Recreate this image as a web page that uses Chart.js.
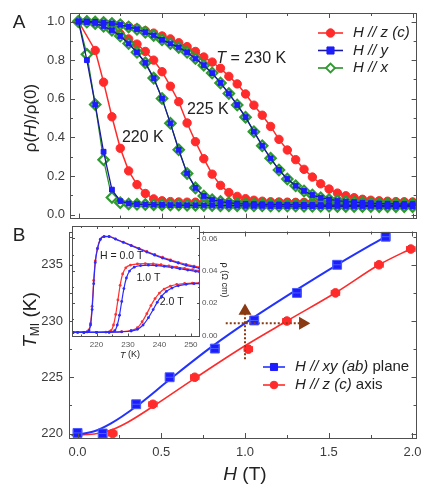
<!DOCTYPE html>
<html>
<head>
<meta charset="utf-8">
<title>rho(H)/rho(0) and T_MI vs H</title>
<script src="https://cdn.jsdelivr.net/npm/chart.js@4.4.1/dist/chart.umd.min.js"></script>
<style>
  html, body { margin: 0; padding: 0; background: #fff; }
  #fig { position: relative; width: 424px; height: 489px; overflow: hidden; background: #fff; }
  #fig canvas { position: absolute; }
</style>
</head>
<body>
<div id="fig">
  <canvas id="panelA" width="424" height="226" style="left:0;top:0"></canvas>
  <canvas id="panelB" width="424" height="265" style="left:0;top:224px"></canvas>
  <canvas id="inset" width="180" height="140" style="left:60px;top:222px"></canvas>
</div>
<script>
// ---- panel A : rho(H)/rho(0) against H ----
const fieldH = [0, 0.05, 0.1, 0.15, 0.2, 0.25, 0.3, 0.35, 0.4, 0.45, 0.5, 0.55, 0.6, 0.65, 0.7, 0.75, 0.8, 0.85, 0.9, 0.95,
                1.0, 1.05, 1.1, 1.15, 1.2, 1.25, 1.3, 1.35, 1.4, 1.45, 1.5, 1.55, 1.6, 1.65, 1.7, 1.75, 1.8, 1.85, 1.9, 1.95, 2.0];

const red220 = [1.0, null, 0.85, 0.686, 0.507, 0.344, 0.227, 0.156, 0.11, 0.082,
                0.072, 0.068, 0.066, 0.065, 0.065, 0.064, 0.064, 0.064, 0.064, 0.063,
                0.063, 0.063, 0.063, 0.063, 0.063, 0.063, 0.062, 0.062, 0.062, 0.062,
                0.062, 0.062, 0.062, 0.062, 0.062, 0.062, 0.062, 0.062, 0.062, 0.062, 0.062];
const blue220 = [1.0, 0.8, 0.57, 0.326, 0.13, 0.07, 0.058, 0.055, 0.053, 0.052,
                 0.051, 0.05, 0.05, 0.049, 0.049, 0.048, 0.048, 0.047, 0.047, 0.047,
                 0.046, 0.046, 0.046, 0.045, 0.045, 0.045, 0.045, 0.044, 0.044, 0.044,
                 0.044, 0.043, 0.043, 0.043, 0.043, 0.043, 0.042, 0.042, 0.042, 0.042, 0.042];
const green220 = [1.0, 0.83, 0.57, 0.284, 0.089, 0.062, 0.056, 0.054, 0.053, 0.052,
                  0.051, 0.05, 0.05, 0.049, 0.049, 0.048, 0.048, 0.047, 0.047, 0.047,
                  0.046, 0.046, 0.046, 0.045, 0.045, 0.045, 0.045, 0.044, 0.044, 0.044,
                  0.044, 0.043, 0.043, 0.043, 0.043, 0.043, 0.042, 0.042, 0.042, 0.042, 0.042];

const red225 = [1.0, 0.998, 0.99, 0.98, 0.96, 0.935, 0.91, 0.883, 0.845, 0.8,
                0.74, 0.665, 0.585, 0.475, 0.378, 0.29, 0.21, 0.152, 0.115, 0.095,
                0.083, 0.075, 0.07, 0.067, 0.066, 0.065, 0.064, 0.064, 0.063, 0.063,
                0.063, 0.063, 0.063, 0.063, 0.063, 0.062, 0.062, 0.062, 0.062, 0.062, 0.062];
const blue225 = [1.0, 0.997, 0.99, 0.975, 0.955, 0.925, 0.886, 0.841, 0.786, 0.707,
                 0.602, 0.473, 0.336, 0.214, 0.139, 0.097, 0.078, 0.068, 0.062, 0.058,
                 0.056, 0.055, 0.054, 0.053, 0.053, 0.052, 0.052, 0.051, 0.051, 0.05,
                 0.05, 0.05, 0.049, 0.049, 0.049, 0.049, 0.048, 0.048, 0.048, 0.048, 0.048];
const green225 = [1.0, 0.997, 0.99, 0.975, 0.955, 0.925, 0.886, 0.841, 0.786, 0.707,
                  0.602, 0.473, 0.336, 0.214, 0.139, 0.097, 0.078, 0.068, 0.062, 0.058,
                  0.056, 0.055, 0.054, 0.053, 0.053, 0.052, 0.052, 0.051, 0.051, 0.05,
                  0.05, 0.05, 0.049, 0.049, 0.049, 0.049, 0.048, 0.048, 0.048, 0.048, 0.048];

const red230 = [1.0, 1.0, 0.998, 0.996, 0.99, 0.985, 0.975, 0.965, 0.952, 0.94,
                0.925, 0.91, 0.89, 0.87, 0.845, 0.816, 0.79, 0.758, 0.716, 0.677,
                0.625, 0.567, 0.515, 0.457, 0.39, 0.335, 0.285, 0.235, 0.195, 0.16,
                0.133, 0.112, 0.098, 0.088, 0.08, 0.075, 0.072, 0.07, 0.068, 0.067, 0.066];
const blue230 = [1.0, 1.0, 0.998, 0.995, 0.99, 0.983, 0.972, 0.96, 0.945, 0.928,
                 0.905, 0.886, 0.866, 0.841, 0.808, 0.774, 0.733, 0.682, 0.627, 0.568,
                 0.505, 0.43, 0.357, 0.292, 0.232, 0.185, 0.15, 0.123, 0.102, 0.088,
                 0.079, 0.073, 0.068, 0.065, 0.062, 0.06, 0.058, 0.057, 0.056, 0.055, 0.055];
const green230 = [1.0, 1.0, 0.998, 0.995, 0.99, 0.983, 0.972, 0.96, 0.945, 0.928,
                  0.905, 0.886, 0.866, 0.841, 0.808, 0.774, 0.733, 0.682, 0.627, 0.568,
                  0.505, 0.43, 0.357, 0.292, 0.232, 0.185, 0.15, 0.123, 0.102, 0.088,
                  0.079, 0.073, 0.068, 0.065, 0.062, 0.06, 0.058, 0.057, 0.056, 0.055, 0.055];

const ratioTicks = [0, 0.2, 0.4, 0.6, 0.8, 1.0];
const ratioMinor = [0.1, 0.3, 0.5, 0.7, 0.9];
const fieldTicks = [0, 0.5, 1.0, 1.5, 2.0];
const fieldMinor = [0.25, 0.75, 1.25, 1.75];

// ---- panel B : T_MI against H ----
const tmiFieldXY = [0, 0.15, 0.35, 0.55, 0.82, 1.055, 1.31, 1.55, 1.84];
const tmiXY = [220.05, 220, 222.6, 225, 227.55, 230.05, 232.5, 235, 237.5];
const tmiFieldZ = [0.21, 0.45, 0.70, 1.02, 1.25, 1.54, 1.80, 1.99];
const tmiZ = [220, 222.6, 225, 227.5, 230, 232.5, 235, 236.4];
const fitFieldXY = [-0.035, 0.1, 0.2, 0.35, 0.55, 0.8, 1.05, 1.3, 1.55, 1.85];
const fitXY = [219.85, 220.2, 220.9, 222.4, 224.8, 227.7, 230.3, 232.7, 235.0, 237.6];
const fitFieldZ = [-0.035, 0.1, 0.2, 0.3, 0.45, 0.7, 1.0, 1.25, 1.55, 1.8, 2.0];
const fitZ = [219.85, 219.95, 220.3, 221.0, 222.4, 224.9, 227.8, 230.0, 232.6, 235.0, 236.5];
const arrowUpH = [1.0, 1.0], arrowUpT = [226.6, 230.9];
const arrowRightH = [0.885, 1.345], arrowRightT = [229.8, 229.8];
const tmiTicks = [220, 225, 230, 235];
const tmiMinor = [222.5, 227.5, 232.5, 237.5];

// ---- inset : rho(T) at 0, 1 and 2 T ----
const insT0 = [212.5, 214, 216, 217, 217.6, 218.1, 218.6, 219.1, 219.6, 220.3, 221.2, 222.4, 224, 226, 228.5, 231, 233.5, 236, 238.5, 241, 243.5, 246, 248.5, 251, 252.8];
const insRho0Red = [0.0019, 0.0019, 0.002, 0.0023, 0.0035, 0.0075, 0.018, 0.034, 0.046, 0.054, 0.0595, 0.0612, 0.0612, 0.0597, 0.0577, 0.0557, 0.0538, 0.0519, 0.05, 0.0483, 0.0467, 0.0452, 0.0439, 0.0428, 0.0421];
const insRho0Blue = [0.0019, 0.0019, 0.002, 0.0022, 0.003, 0.0065, 0.016, 0.032, 0.045, 0.0535, 0.0592, 0.061, 0.061, 0.0595, 0.0575, 0.0555, 0.0535, 0.0515, 0.0496, 0.0478, 0.0462, 0.0447, 0.0433, 0.0422, 0.0415];
const insT1Red = [212.5, 216, 220, 223, 224.6, 225.4, 226.1, 226.8, 227.5, 228.3, 229.3, 230.8, 233, 235.5, 238, 240.5, 243, 245.5, 248, 250.5, 252.8];
const insRho1Red = [0.0019, 0.0019, 0.002, 0.0021, 0.003, 0.0065, 0.013, 0.022, 0.031, 0.038, 0.0418, 0.0435, 0.0442, 0.0444, 0.0442, 0.0437, 0.043, 0.0422, 0.0414, 0.0406, 0.04];
const insT1Blue = [212.5, 216, 220, 224, 225.8, 226.6, 227.3, 228, 228.7, 229.5, 230.5, 232, 234, 236.5, 239, 241.5, 244, 246.5, 249, 251.5, 252.8];
const insRho1Blue = [0.0019, 0.0019, 0.002, 0.0021, 0.003, 0.0065, 0.0125, 0.021, 0.029, 0.0355, 0.0398, 0.0422, 0.0432, 0.0434, 0.0432, 0.0427, 0.042, 0.0412, 0.0404, 0.0396, 0.0392];
const insT2Red = [212.5, 216, 220, 224, 228, 231, 233, 234.5, 236, 237.3, 238.6, 240, 241.5, 243.5, 245.5, 248, 250.5, 252.8];
const insRho2Red = [0.0019, 0.0019, 0.002, 0.0021, 0.0024, 0.0032, 0.0048, 0.0085, 0.0135, 0.0185, 0.0228, 0.0262, 0.0287, 0.0305, 0.0315, 0.0321, 0.0324, 0.0325];
const insT2Blue = [212.5, 216, 220, 224, 228, 231, 233, 234.8, 236.5, 238, 239.3, 240.7, 242.2, 244, 246, 248.5, 251, 252.8];
const insRho2Blue = [0.0019, 0.0019, 0.002, 0.0021, 0.0023, 0.0028, 0.0038, 0.0065, 0.011, 0.016, 0.0205, 0.0243, 0.0272, 0.0293, 0.0307, 0.0316, 0.032, 0.0321];
const insTempTicks = [220, 230, 240, 250];
const insTempMinor = [215, 225, 235, 245];
const insRhoTicks = [0, 0.02, 0.04, 0.06];
const insRhoMinor = [0.01, 0.03, 0.05];

// couleurs
const RED = '#ff2b2b', BLUE = '#1c1cff', NAVY = '#1a1a9c', GREEN = '#2a8f2a', BROWN = '#8a3a12';
const FONT = "'Liberation Sans', Arial, Helvetica, sans-serif";
const TXT = '#222';
Chart.defaults.font.family = FONT;

const f = (size, style) => (style ? style + ' ' : '') + size + 'px ' + FONT;

function pairs(xs, ys) {
    return xs.map((v, i) => ({ x: v, y: ys[i] }));
}

// texte avec plusieurs polices sur une ligne
function drawRuns(ctx, x, y, runs, align) {
    ctx.save();
    ctx.fillStyle = TXT;
    ctx.textBaseline = 'middle';
    ctx.textAlign = 'left';
    let w = 0;
    runs.forEach(r => { ctx.font = r.font; w += ctx.measureText(r.text).width; });
    let cx = align === 'center' ? x - w / 2 : (align === 'right' ? x - w : x);
    runs.forEach(r => {
        ctx.font = r.font;
        ctx.fillText(r.text, cx, y + (r.dy || 0));
        cx += ctx.measureText(r.text).width;
    });
    ctx.restore();
}

function drawRotated(ctx, x, y, angle, runs) {
    ctx.save();
    ctx.translate(x, y);
    ctx.rotate(angle);
    drawRuns(ctx, 0, 0, runs, 'center');
    ctx.restore();
}

function legendRow(ctx, x0, x1, y, ds, runs) {
    ctx.save();
    ctx.strokeStyle = ds.borderColor;
    ctx.lineWidth = 1.6;
    ctx.beginPath();
    ctx.moveTo(x0, y);
    ctx.lineTo(x1, y);
    ctx.stroke();
    ctx.fillStyle = ds.pointBackgroundColor;
    ctx.strokeStyle = ds.pointBorderColor;
    ctx.lineWidth = ds.pointBorderWidth;
    Chart.helpers.drawPoint(ctx, { pointStyle: ds.pointStyle, radius: ds.pointRadius, rotation: 0, borderWidth: ds.pointBorderWidth }, (x0 + x1) / 2, y);
    ctx.restore();
    drawRuns(ctx, x1 + 10, y, runs, 'left');
}

// cadre avec graduations vers l'intérieur
function frameTicks(xMaj, xMin, yMaj, yMin, majLen, minLen) {
    return {
        id: 'frameTicks',
        afterDatasetsDraw(chart) {
            const { ctx, chartArea: a } = chart;
            const xs = chart.scales.x, ys = chart.scales.y;
            ctx.save();
            ctx.strokeStyle = '#505050';
            ctx.lineWidth = 1;
            ctx.beginPath();
            const markX = (vals, len) => vals.forEach(v => {
                const px = Math.round(xs.getPixelForValue(v)) + 0.5;
                ctx.moveTo(px, a.bottom); ctx.lineTo(px, a.bottom - len);
                ctx.moveTo(px, a.top); ctx.lineTo(px, a.top + len);
            });
            const markY = (vals, len) => vals.forEach(v => {
                const py = Math.round(ys.getPixelForValue(v)) + 0.5;
                ctx.moveTo(a.left, py); ctx.lineTo(a.left + len, py);
                ctx.moveTo(a.right, py); ctx.lineTo(a.right - len, py);
            });
            markX(xMaj, majLen); markX(xMin, minLen);
            markY(yMaj, majLen); markY(yMin, minLen);
            ctx.stroke();
            ctx.strokeRect(Math.round(a.left) + 0.5, Math.round(a.top) + 0.5, Math.round(a.width) - 1, Math.round(a.height) - 1);
            ctx.restore();
        }
    };
}

// barres d'erreur horizontales
const errorBars = {
    id: 'errorBars',
    afterDatasetsDraw(chart) {
        const { ctx, scales: { x, y } } = chart;
        chart.data.datasets.forEach(ds => {
            if (!ds.errH) return;
            ctx.save();
            ctx.strokeStyle = ds.pointBorderColor;
            ctx.lineWidth = 1;
            ctx.beginPath();
            ds.data.forEach(p => {
                const x0 = x.getPixelForValue(p.x - ds.errH), x1 = x.getPixelForValue(p.x + ds.errH), py = y.getPixelForValue(p.y);
                ctx.moveTo(x0, py); ctx.lineTo(x1, py);
                ctx.moveTo(x0, py - 3); ctx.lineTo(x0, py + 3);
                ctx.moveTo(x1, py - 3); ctx.lineTo(x1, py + 3);
            });
            ctx.stroke();
            ctx.restore();
        });
    }
};

function noPad(s) {
    s.paddingLeft = 0; s.paddingRight = 0; s.paddingTop = 0; s.paddingBottom = 0;
}

// ---------------- panel A ----------------
function topSeries(arr, kind) {
    const base = { data: pairs(fieldH, arr), spanGaps: true, tension: 0, borderWidth: 1.3 };
    if (kind === 'red') {
        return Object.assign(base, { borderColor: RED, borderWidth: 1.5, pointStyle: 'circle', pointRadius: 4.2,
            pointBackgroundColor: RED, pointBorderColor: RED, pointBorderWidth: 1 });
    }
    if (kind === 'blue') {
        return Object.assign(base, { borderColor: NAVY, pointStyle: 'rect', pointRadius: 3.4,
            pointBackgroundColor: BLUE, pointBorderColor: BLUE, pointBorderWidth: 1 });
    }
    return Object.assign(base, { borderColor: GREEN, pointStyle: 'rectRot', pointRadius: 5.2,
        pointBackgroundColor: '#ffffff', pointBorderColor: '#2f9a2f', pointBorderWidth: 2.2 });
}

const topDatasets = [
    topSeries(blue220, 'blue'), topSeries(blue225, 'blue'), topSeries(blue230, 'blue'),
    topSeries(green220, 'green'), topSeries(green225, 'green'), topSeries(green230, 'green'),
    topSeries(red220, 'red'), topSeries(red225, 'red'), topSeries(red230, 'red')
];

new Chart(document.getElementById('panelA'), {
    type: 'line',
    data: { datasets: topDatasets },
    options: {
        responsive: false,
        animation: false,
        layout: { padding: { left: 0, top: 13, right: 3, bottom: 1 } },
        plugins: { legend: { display: false }, tooltip: { enabled: false } },
        scales: {
            x: {
                type: 'linear', min: -0.051, max: 2.024,
                ticks: { display: false },
                grid: { display: false, drawTicks: false },
                border: { display: false },
                afterFit: s => { s.height = 0; noPad(s); }
            },
            y: {
                min: -0.02, max: 1.044,
                grid: { display: false, drawTicks: false },
                border: { display: false },
                ticks: { color: '#3c3c3c', font: { size: 13 }, padding: 5, callback: v => v.toFixed(1) },
                afterBuildTicks: s => { s.ticks = ratioTicks.map(v => ({ value: v })); },
                afterFit: s => { s.width = 70; noPad(s); }
            }
        }
    },
    plugins: [
        frameTicks(fieldTicks, fieldMinor, ratioTicks, ratioMinor, 5, 3),
        {
            id: 'panelAText',
            afterDraw(chart) {
                const { ctx, scales: { x, y } } = chart;
                const ds = chart.data.datasets;
                drawRuns(ctx, 19, 23, [{ text: 'A', font: f(19) }], 'center');
                drawRotated(ctx, 31, 118, -Math.PI / 2, [
                    { text: 'ρ(', font: f(17) }, { text: 'H', font: f(17, 'italic') }, { text: ')/ρ(0)', font: f(17) }
                ]);
                drawRuns(ctx, x.getPixelForValue(0.825), y.getPixelForValue(0.808),
                    [{ text: 'T', font: f(16, 'italic') }, { text: ' = 230 K', font: f(16) }], 'left');
                drawRuns(ctx, x.getPixelForValue(0.649), y.getPixelForValue(0.542), [{ text: '225 K', font: f(16) }], 'left');
                drawRuns(ctx, x.getPixelForValue(0.26), y.getPixelForValue(0.401), [{ text: '220 K', font: f(16) }], 'left');
                legendRow(ctx, 318, 343, 33, ds[6], [{ text: 'H // z (c)', font: f(15, 'italic') }]);
                legendRow(ctx, 318, 343, 50.5, Object.assign({}, ds[0], { pointRadius: 5 }), [{ text: 'H // y', font: f(15, 'italic') }]);
                legendRow(ctx, 318, 343, 68, Object.assign({}, ds[3], { pointRadius: 4.5, pointBorderWidth: 1.8 }), [{ text: 'H // x', font: f(15, 'italic') }]);
            }
        }
    ]
});

// ---------------- panel B ----------------
new Chart(document.getElementById('panelB'), {
    type: 'line',
    data: {
        datasets: [
            { data: pairs(arrowUpH, arrowUpT), borderColor: BROWN, borderWidth: 2, borderDash: [2, 2],
              pointStyle: 'triangle', pointRadius: [0, 5.5], pointRotation: 0,
              pointBackgroundColor: BROWN, pointBorderColor: BROWN },
            { data: pairs(arrowRightH, arrowRightT), borderColor: BROWN, borderWidth: 2, borderDash: [2, 2],
              pointStyle: 'triangle', pointRadius: [0, 5.5], pointRotation: 90,
              pointBackgroundColor: BROWN, pointBorderColor: BROWN },
            { data: pairs(tmiFieldXY, tmiXY), showLine: false, pointStyle: 'rect', pointRadius: 6.3,
              pointBackgroundColor: BLUE, pointBorderColor: '#4a5cff', pointBorderWidth: 1, errH: 0.025 },
            { data: pairs(tmiFieldZ, tmiZ), showLine: false, pointStyle: 'circle', pointRadius: 4.3,
              pointBackgroundColor: RED, pointBorderColor: RED, pointBorderWidth: 1, errH: 0.025 },
            { data: pairs(fitFieldXY, fitXY), borderColor: '#2233ff', borderWidth: 2, pointRadius: 0,
              cubicInterpolationMode: 'monotone', pointStyle: 'rect', pointBackgroundColor: BLUE,
              pointBorderColor: BLUE, pointBorderWidth: 1 },
            { data: pairs(fitFieldZ, fitZ), borderColor: RED, borderWidth: 1.6, pointRadius: 0,
              cubicInterpolationMode: 'monotone', pointStyle: 'circle', pointBackgroundColor: RED,
              pointBorderColor: RED, pointBorderWidth: 1 }
        ]
    },
    options: {
        responsive: false,
        animation: false,
        layout: { padding: { left: 0, top: 1, right: 3, bottom: 0 } },
        plugins: { legend: { display: false }, tooltip: { enabled: false } },
        scales: {
            x: {
                type: 'linear', min: -0.051, max: 2.024,
                grid: { display: false, drawTicks: false },
                border: { display: false },
                ticks: { color: '#3c3c3c', font: { size: 13 }, padding: 7, maxRotation: 0, callback: v => v.toFixed(1) },
                afterBuildTicks: s => { s.ticks = fieldTicks.map(v => ({ value: v })); },
                afterFit: s => { s.height = 51; noPad(s); }
            },
            y: {
                min: 219.6, max: 237.96,
                grid: { display: false, drawTicks: false },
                border: { display: false },
                ticks: { color: '#3c3c3c', font: { size: 13 }, padding: 6, callback: v => String(v) },
                afterBuildTicks: s => { s.ticks = tmiTicks.map(v => ({ value: v })); },
                afterFit: s => { s.width = 69; noPad(s); }
            }
        }
    },
    plugins: [
        errorBars,
        frameTicks(fieldTicks, fieldMinor, tmiTicks, tmiMinor, 5, 3),
        {
            id: 'panelBText',
            afterDraw(chart) {
                const { ctx } = chart;
                const ds = chart.data.datasets;
                drawRuns(ctx, 19, 12, [{ text: 'B', font: f(19) }], 'center');
                drawRotated(ctx, 31, 96, -Math.PI / 2, [
                    { text: 'T', font: f(19, 'italic') }, { text: 'MI', font: f(12), dy: 5 }, { text: ' (K)', font: f(19) }
                ]);
                drawRuns(ctx, 245, 251, [{ text: 'H', font: f(19, 'italic') }, { text: ' (T)', font: f(19) }], 'center');
                legendRow(ctx, 263, 285, 143, Object.assign({}, ds[4], { pointRadius: 5 }),
                    [{ text: 'H // xy (ab)', font: f(15, 'italic') }, { text: ' plane', font: f(15) }]);
                legendRow(ctx, 263, 285, 161, Object.assign({}, ds[5], { pointRadius: 3.8 }),
                    [{ text: 'H // z (c)', font: f(15, 'italic') }, { text: ' axis', font: f(15) }]);
            }
        }
    ]
});

// ---------------- inset ----------------
function insetSeries(ts, rhos, color) {
    return { data: pairs(ts, rhos), borderColor: color, borderWidth: 1.2, pointRadius: 1.4,
             pointBackgroundColor: color, pointBorderColor: color, pointBorderWidth: 0,
             cubicInterpolationMode: 'monotone' };
}

new Chart(document.getElementById('inset'), {
    type: 'line',
    data: {
        datasets: [
            insetSeries(insT0, insRho0Blue, '#2b2bff'),
            insetSeries(insT1Blue, insRho1Blue, '#2b2bff'),
            insetSeries(insT2Blue, insRho2Blue, '#2b2bff'),
            insetSeries(insT0, insRho0Red, '#ff3030'),
            insetSeries(insT1Red, insRho1Red, '#ff3030'),
            insetSeries(insT2Red, insRho2Red, '#ff3030')
        ]
    },
    options: {
        responsive: false,
        animation: false,
        layout: { padding: { left: 12, top: 2.5, right: 0, bottom: 0 } },
        plugins: { legend: { display: false }, tooltip: { enabled: false } },
        scales: {
            x: {
                type: 'linear', min: 212.2, max: 252.9,
                grid: { display: false, drawTicks: false },
                border: { display: false },
                ticks: { color: '#555', font: { size: 8 }, padding: 3, maxRotation: 0, callback: v => String(v) },
                afterBuildTicks: s => { s.ticks = insTempTicks.map(v => ({ value: v })); },
                afterFit: s => { s.height = 25.5; noPad(s); }
            },
            y: {
                position: 'right',
                min: -0.0006, max: 0.0676,
                grid: { display: false, drawTicks: false },
                border: { display: false },
                ticks: { color: '#555', font: { size: 8 }, padding: 2, callback: v => v.toFixed(2) },
                afterBuildTicks: s => { s.ticks = insRhoTicks.map(v => ({ value: v })); },
                afterFit: s => { s.width = 40; noPad(s); }
            }
        }
    },
    plugins: [
        {
            id: 'insetBg',
            beforeDraw(chart) {
                const { ctx, chartArea: a } = chart;
                ctx.save();
                ctx.fillStyle = '#ffffff';
                ctx.fillRect(a.left, a.top, a.width, a.height);
                ctx.restore();
            }
        },
        frameTicks(insTempTicks, insTempMinor, insRhoTicks, insRhoMinor, 3, 2),
        {
            id: 'insetText',
            afterDraw(chart) {
                const { ctx, scales: { x, y } } = chart;
                drawRuns(ctx, 70, 133, [{ text: 'T', font: f(9, 'italic') }, { text: ' (K)', font: f(9) }], 'center');
                drawRotated(ctx, 164, 58, Math.PI / 2, [{ text: 'ρ (Ω cm)', font: f(9) }]);
                drawRuns(ctx, x.getPixelForValue(221.1), y.getPixelForValue(0.0493), [{ text: 'H = 0.0 T', font: f(10.5) }], 'left');
                drawRuns(ctx, x.getPixelForValue(232.7), y.getPixelForValue(0.0352), [{ text: '1.0 T', font: f(10.5) }], 'left');
                drawRuns(ctx, x.getPixelForValue(240.1), y.getPixelForValue(0.0206), [{ text: '2.0 T', font: f(10.5) }], 'left');
            }
        }
    ]
});
</script>
</body>
</html>
